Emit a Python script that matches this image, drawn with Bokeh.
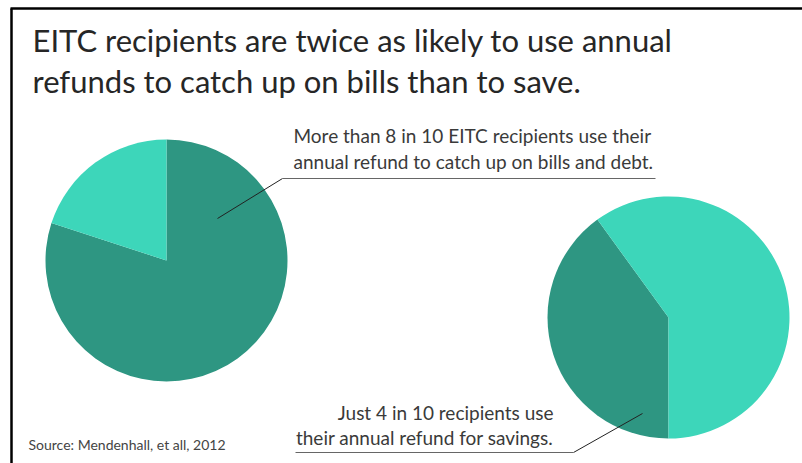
import math
from bokeh.plotting import figure
from bokeh.models import ColumnDataSource, Range1d
from bokeh.core.properties import value
from bokeh.embed import file_html
from bokeh.resources import INLINE

# ---- data ----
title_lines = ["EITC recipients are twice as likely to use annual",
               "refunds to catch up on bills than to save."]
left_labels = ["Catch up on bills and debt", "Other uses"]
left_values = [80, 20]
right_labels = ["Savings", "Other uses"]
right_values = [40, 60]
note_left = ["More than 8 in 10 EITC recipients use their",
             "annual refund to catch up on bills and debt."]
note_right = ["Just 4 in 10 recipients use",
              "their annual refund for savings."]
source_text = "Source: Mendenhall, et all, 2012"

DARK = "#2E9682"
LIGHT = "#3DD6BA"
W, H = 802, 463
FONT = "Lato"

def sy(y):
    return H - y

p = figure(width=W, height=H, output_backend="svg", toolbar_location=None,
           x_range=Range1d(0, W), y_range=Range1d(0, H),
           x_axis_type=None, y_axis_type=None, min_border=0,
           outline_line_color=None, background_fill_color="white",
           border_fill_color="white")
p.grid.visible = False

def pie(values, colors, cx, cy, r, start_cw_deg):
    total = float(sum(values))
    starts, ends = [], []
    cum = start_cw_deg / 360.0
    for v in values:
        s = cum
        e = cum + v / total
        starts.append(math.pi / 2 - e * 2 * math.pi)
        ends.append(math.pi / 2 - s * 2 * math.pi)
        cum = e
    src = ColumnDataSource(dict(x=[cx] * len(values), y=[sy(cy)] * len(values),
                                start=starts, end=ends, color=colors))
    p.wedge(x="x", y="y", radius=r, start_angle="start", end_angle="end",
            fill_color="color", line_color=None, source=src)

pie(left_values, [DARK, LIGHT], 166, 260, 121, 0)
pie(right_values, [DARK, LIGHT], 668, 317, 121, 180)

# frame lines
p.line([11, 11], [sy(8), sy(470)], line_color="black", line_width=2.5)
p.line([10, W + 5], [sy(8), sy(8)], line_color="black", line_width=2.5)

# title
p.text(x=[32, 32], y=[sy(39), sy(80)], text=title_lines,
       text_font=value(FONT), text_font_size="31px", text_color="#262626",
       text_baseline="alphabetic", text_align="left")

# annotation left
p.text(x=[293, 293], y=[sy(135), sy(161)], text=note_left,
       text_font=value(FONT), text_font_size="19px", text_color="#3a3a3a",
       text_baseline="alphabetic", text_align="left")
p.line([217, 282], [sy(218), sy(178)], line_color="#222222", line_width=1)
p.line([282, 655], [sy(178), sy(178)], line_color="#666666", line_width=1)

# annotation right
p.text(x=[553, 553], y=[sy(412), sy(437)], text=note_right,
       text_font=value(FONT), text_font_size="19px", text_color="#3a3a3a",
       text_baseline="alphabetic", text_align="right")
p.line([642, 573], [sy(413), sy(452)], line_color="#222222", line_width=1)
p.line([573, 295], [sy(452), sy(452)], line_color="#666666", line_width=1)

# source
p.text(x=[28], y=[sy(444)], text=[source_text],
       text_font=value(FONT), text_font_size="14px", text_color="#444444",
       text_baseline="alphabetic", text_align="left")

open("out.html", "w").write(file_html(p, INLINE))
